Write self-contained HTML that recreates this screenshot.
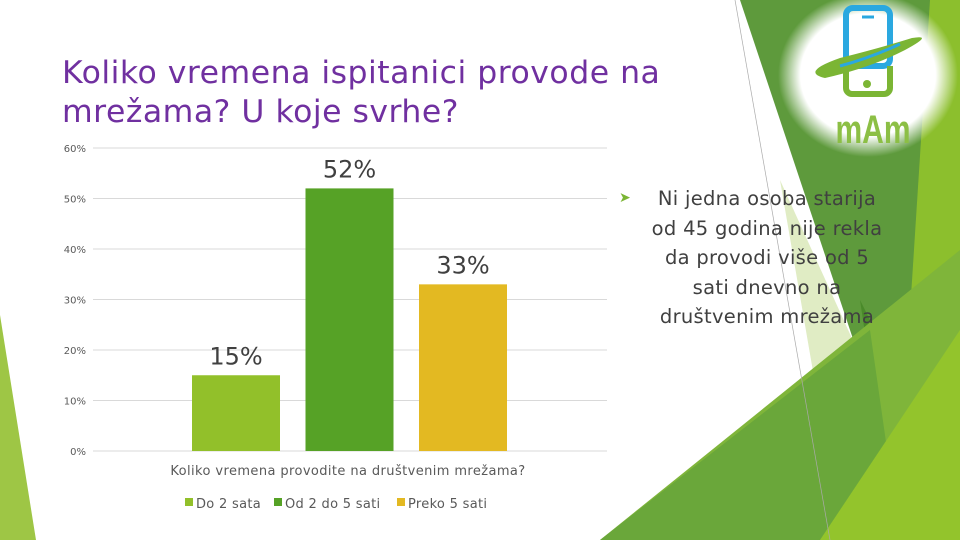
<!DOCTYPE html>
<html><head><meta charset="utf-8"><style>
body{margin:0;width:960px;height:540px;overflow:hidden;background:#fff;font-family:"DejaVu Sans","Liberation Sans",sans-serif;position:relative}
.t{position:absolute;margin:0}
</style></head><body>
<svg width="960" height="540" style="position:absolute;left:0;top:0">
<defs><radialGradient id="g"><stop offset="0.75" stop-color="#fff"/><stop offset="1" stop-color="#fff" stop-opacity="0"/></radialGradient></defs>
<polygon points="0,315 36,540 0,540" fill="#9ec645"/>
<polygon points="880,0 960,0 960,540 840,540" fill="#8cbf2d"/>
<polygon points="740,0 930,0 905,390 870,390" fill="#5e9a3c"/>
<polygon points="860,300 905,390 875,400" fill="#4a8a2a"/>
<polygon points="780,180 880,400 830,470" fill="#e0ecc4"/>
<polygon points="600,540 960,250 960,540" fill="#7fb53a"/>
<polygon points="600,540 870,330 900,540" fill="#6aa73a"/>
<polygon points="820,540 960,330 960,540" fill="#93c42c"/>
<line x1="735" y1="0" x2="830" y2="540" stroke="#aaa" stroke-width="0.7"/>
<ellipse cx="868" cy="75" rx="90" ry="82" fill="url(#g)"/>
<rect x="846" y="8" width="44" height="58" rx="7" fill="none" stroke="#2aa8e0" stroke-width="6"/>
<line x1="862" y1="17" x2="874" y2="17" stroke="#2aa8e0" stroke-width="3"/>
<path d="M846 66 v22 a6 6 0 0 0 6 6 h32 a6 6 0 0 0 6-6 v-22" fill="none" stroke="#7bb534" stroke-width="6"/>
<circle cx="867" cy="84" r="4" fill="#7bb534"/>
<path d="M825 78 Q800 72 840 58 Q880 48 912 38 Q935 34 905 50 Q870 68 825 78Z" fill="#7bb534"/>
<path d="M840 66 Q870 58 900 44" fill="none" stroke="#2aa8e0" stroke-width="3"/>
<text x="0" y="0" transform="translate(873,143) scale(0.75,1)" text-anchor="middle" font-size="40" font-weight="bold" fill="#8cbf45" font-family="Liberation Sans,sans-serif">mAm</text>
</svg>
<div class="t" style="left:62px;top:54px;font-size:31.5px;line-height:39px;color:#7030a0;letter-spacing:0.5px">Koliko vremena ispitanici provode na<br>mrežama? U koje svrhe?</div>
<span class="t" style="left:619px;top:190px;color:#7bb534;font-size:14px">➤</span>
<div class="t" style="left:620px;top:184px;width:294px;font-size:19.5px;line-height:29.5px;color:#404040;text-align:center;letter-spacing:0.3px">Ni jedna osoba starija<br>od 45 godina nije rekla<br>da provodi više od 5<br>sati dnevno na<br>društvenim mrežama</div>
<svg id="chart" width="960" height="540" style="position:absolute;left:0;top:0"></svg>
<script>
const categories=["Do 2 sata","Od 2 do 5 sati","Preko 5 sati"];
const values=[15,52,33];
const colors=["#92c02a","#56a226","#e3b922"];
const ticks=[0,10,20,30,40,50,60];
const svg=document.getElementById('chart');const NS='http://www.w3.org/2000/svg';
const y0=451,pxPer=303/60,x0=93,x1=607;
const y=v=>y0-v*pxPer;
function mk(t,a,txt){const e=document.createElementNS(NS,t);for(const k in a)e.setAttribute(k,a[k]);if(txt!=null)e.textContent=txt;svg.appendChild(e);return e;}
ticks.forEach(v=>{
const l=mk('line',{x1:x0,x2:x1,y1:y(v),y2:y(v),stroke:'#d9d9d9','stroke-width':1});


const t=mk('text',{x:86,y:y(v)+4,'text-anchor':'end','font-size':10,fill:'#595959'},v+'%');


});
const bw=88,step=113.5,start=192;
values.forEach((v,i)=>{
const bx=start+i*step;
const r=mk('rect',{x:bx,y:y(v),width:bw,height:v*pxPer,fill:colors[i]});


const t=mk('text',{x:bx+bw/2,y:y(v)-11,'text-anchor':'middle','font-size':24,fill:'#404040'},v+'%');


});
const xl=mk('text',{x:348,y:475,'text-anchor':'middle','font-size':13,fill:'#595959','letter-spacing':'0.4'},'Koliko vremena provodite na društvenim mrežama?');


const lx=[185,274,397];
categories.forEach((c,i)=>{
const r=mk('rect',{x:lx[i],y:498,width:8,height:8,fill:colors[i]});


const t=mk('text',{x:lx[i]+11,y:508,'font-size':13,fill:'#595959','letter-spacing':'0.3'},c);


});
</script>
</body></html>
